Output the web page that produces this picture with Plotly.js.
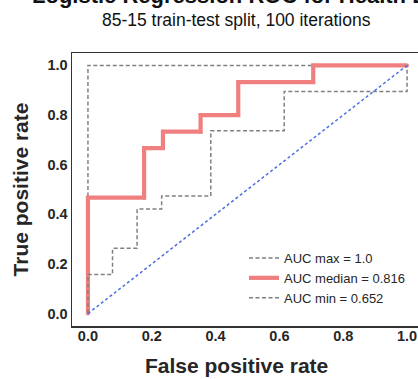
<!DOCTYPE html>
<html>
<head>
<meta charset="utf-8">
<script src="https://cdn.plot.ly/plotly-3.0.1.min.js"></script>
<style>html,body{margin:0;padding:0;overflow:hidden;background:#fff}</style>
</head>
<body>
<div id="chart"></div>
<script>
// ROC curves (false positive rate, true positive rate)
const maxFpr = [0, 0, 1];
const maxTpr = [0, 1, 1];
const medFpr = [0, 0, 0.176, 0.176, 0.235, 0.235, 0.353, 0.353, 0.471, 0.471, 0.706, 0.706, 1];
const medTpr = [0, 0.467, 0.467, 0.667, 0.667, 0.733, 0.733, 0.8, 0.8, 0.933, 0.933, 1, 1];
const minFpr = [0, 0, 0.077, 0.077, 0.154, 0.154, 0.231, 0.231, 0.385, 0.385, 0.615, 0.615, 1, 1];
const minTpr = [0, 0.158, 0.158, 0.263, 0.263, 0.421, 0.421, 0.474, 0.474, 0.737, 0.737, 0.895, 0.895, 1];
const chanceX = [0, 1];
const chanceY = [0, 1];
const legendNames = ['AUC max = 1.0', 'AUC median = 0.816', 'AUC min = 0.652'];
const tickVals = [0, 0.2, 0.4, 0.6, 0.8, 1.0];
const tickText = ['0.0', '0.2', '0.4', '0.6', '0.8', '1.0'];

const W = 423, H = 379;
const L = 72, T = 53, B = 53;
const plotH = H - T - B;
const py = p => (H - B - p) / plotH;   // pixel row -> paper y
const px = p => (p - L) / (W - L);     // pixel col -> paper x

const font = 'Liberation Sans, Arial, sans-serif';
const txt = '#262626';

const traces = [
  {x: maxFpr, y: maxTpr, mode: 'lines', name: legendNames[0],
   line: {color: '#808080', width: 1.5, dash: '4px,2.5px'}},
  {x: medFpr, y: medTpr, mode: 'lines+markers', name: legendNames[1],
   line: {color: '#f08080', width: 4.2}, marker: {color: '#f08080', size: 4}},
  {x: minFpr, y: minTpr, mode: 'lines', name: legendNames[2],
   line: {color: '#808080', width: 1.5, dash: '4px,2.5px'}},
  {x: chanceX, y: chanceY, mode: 'lines', showlegend: false,
   line: {color: '#4a6fe3', width: 1.5, dash: '3px,2.5px'}}
];

const axisCommon = {
  range: [-0.05, 1.05], tickvals: tickVals, ticktext: tickText,
  showgrid: false, zeroline: false, ticks: '',
  showline: true, mirror: true, linecolor: '#333', linewidth: 1.5,
  tickfont: {family: font, size: 14.5, color: txt, weight: 'bold'}
};

const layout = {
  width: W, height: H,
  margin: {l: L, r: 0, t: T, b: B},
  paper_bgcolor: '#fff', plot_bgcolor: '#fff',
  font: {family: font, color: txt},
  xaxis: Object.assign({}, axisCommon, {ticklabelstandoff: -4}),
  yaxis: Object.assign({}, axisCommon, {
    title: {text: 'True positive rate', font: {family: font, size: 21, color: txt, weight: 'bold'}, standoff: 13}
  }),
  showlegend: true,
  legend: {x: px(244), y: py(243), xanchor: 'left', yanchor: 'top',
           bgcolor: 'rgba(0,0,0,0)', borderwidth: 0,
           font: {family: font, size: 13, color: txt}, itemwidth: 30},
  annotations: [
    {text: '<b>Logistic Regression ROC for Health Data</b>', xref: 'paper', yref: 'paper',
     x: px(30), y: py(10), xanchor: 'left', yanchor: 'bottom', showarrow: false,
     font: {family: font, size: 22, color: '#111'}},
    {text: '85-15 train-test split, 100 iterations', xref: 'paper', yref: 'paper',
     x: px(236.5), y: py(20), xanchor: 'center', yanchor: 'middle', showarrow: false,
     font: {family: font, size: 17.5, color: '#111'}},
    {text: 'False positive rate', xref: 'paper', yref: 'paper',
     x: px(236.5), y: py(365), xanchor: 'center', yanchor: 'middle', showarrow: false,
     font: {family: font, size: 21, color: txt, weight: 'bold'}}
  ]
};

Plotly.newPlot('chart', traces, layout, {displayModeBar: false, staticPlot: true});
</script>
</body>
</html>
